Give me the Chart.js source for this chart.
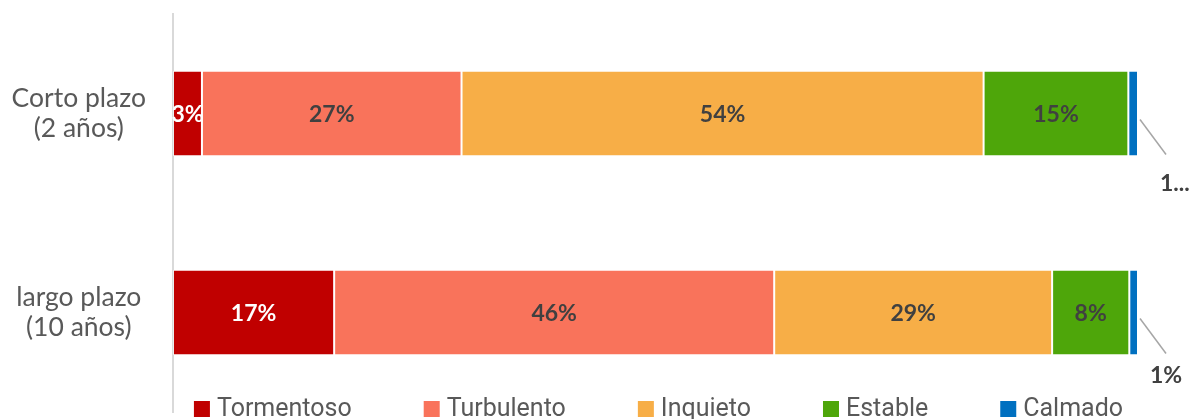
<!DOCTYPE html>
<html>
<head>
<meta charset="utf-8">
<script src="https://cdn.jsdelivr.net/npm/chart.js@4.4.0/dist/chart.umd.min.js"></script>
<style>
  html, body { margin: 0; padding: 0; background: #ffffff; }
  #wrap { width: 1190px; height: 419px; }
</style>
</head>
<body>
<div id="wrap"><canvas id="c" width="1190" height="419"></canvas></div>
<script>
// ---- Data ----
const categories = [['Corto plazo', '(2 años)'], ['largo plazo', '(10 años)']];
const seriesNames = ['Tormentoso', 'Turbulento', 'Inquieto', 'Estable', 'Calmado'];
const tormentoso = [3.0, 16.7];
const turbulento = [26.9, 45.6];
const inquieto = [54.1, 28.8];
const estable = [15.0, 8.0];
const calmado = [1.0, 0.9];
const calmadoLabelText = ['1...', '1%'];

const seriesValues = [tormentoso, turbulento, inquieto, estable, calmado];
const seriesColors = ['#C00000', '#F9735B', '#F7AE47', '#4EA60A', '#0070C0'];
const labelColors = ['#FFFFFF', '#404040', '#404040', '#404040', null];

const datasets = seriesNames.map((name, i) => ({
  label: name,
  data: seriesValues[i],
  backgroundColor: seriesColors[i],
  borderColor: 'rgba(255,255,255,0.55)',
  borderWidth: 1,
  borderSkipped: false,
  categoryPercentage: 1.0,
  barPercentage: 0.43
}));

const labelPlugin = {
  id: 'barLabels',
  afterDatasetsDraw(chart) {
    const ctx = chart.ctx;
    ctx.save();
    ctx.font = 'bold 23px Lato';
    ctx.textBaseline = 'middle';
    chart.data.datasets.forEach((ds, di) => {
      const meta = chart.getDatasetMeta(di);
      meta.data.forEach((bar, i) => {
        const v = ds.data[i];
        if (labelColors[di]) {
          ctx.fillStyle = labelColors[di];
          ctx.textAlign = 'center';
          const cx = (bar.x + bar.base) / 2;
          ctx.fillText(Math.round(v) + '%', cx, bar.y + 1);
        } else {
          ctx.strokeStyle = '#A6A6A6';
          ctx.lineWidth = 1.5;
          ctx.beginPath();
          ctx.moveTo(bar.x + 2, bar.y + 6);
          ctx.lineTo(bar.x + 28, bar.y + 41);
          ctx.stroke();
          ctx.fillStyle = '#404040';
          const txt = calmadoLabelText[i];
          if (txt.endsWith('...')) {
            ctx.textAlign = 'left';
            ctx.fillText(txt, bar.x + 22, bar.y + 70);
          } else {
            ctx.textAlign = 'center';
            ctx.fillText(txt, bar.x + 28, bar.y + 63);
          }
        }
      });
    });
    ctx.restore();
  }
};

const legendPlugin = {
  id: 'customLegend',
  afterDraw(chart) {
    const ctx = chart.ctx;
    ctx.save();
    ctx.font = '25px Roboto';
    const box = 16, gapText = 7, gapItem = 72;
    const widths = seriesNames.map(n => ctx.measureText(n).width);
    let total = 0;
    widths.forEach((w, i) => { total += box + gapText + w + (i < widths.length - 1 ? gapItem : 0); });
    const ca = chart.chartArea;
    let x = (ca.left + ca.right) / 2 - total / 2 + 3;
    const baseline = 416;
    seriesNames.forEach((n, i) => {
      ctx.fillStyle = seriesColors[i];
      ctx.fillRect(x, 401, box, box);
      ctx.fillStyle = '#595959';
      ctx.textAlign = 'left';
      ctx.textBaseline = 'alphabetic';
      ctx.fillText(n, x + box + gapText, baseline);
      x += box + gapText + widths[i] + gapItem;
    });
    ctx.restore();
  }
};

new Chart(document.getElementById('c'), {
  type: 'bar',
  data: { labels: categories, datasets },
  options: {
    indexAxis: 'y',
    responsive: false,
    animation: false,
    devicePixelRatio: 1,
    layout: { padding: { left: 0, right: 52, top: 14, bottom: 7 } },
    plugins: { legend: { display: false }, tooltip: { enabled: false } },
    scales: {
      x: { stacked: true, min: 0, max: 100, display: false },
      y: {
        stacked: true,
        grid: { display: false, drawTicks: false },
        border: { display: true, color: '#D9D9D9', width: 2 },
        ticks: {
          crossAlign: 'center',
          padding: 27,
          color: '#595959',
          font: { family: 'Lato', size: 26.5, lineHeight: 1.13 }
        },
        afterFit(scale) {
          scale.width = 173;
          scale.paddingTop = 0;
          scale.paddingBottom = 0;
        }
      }
    }
  },
  plugins: [labelPlugin, legendPlugin]
});
</script>
</body>
</html>
